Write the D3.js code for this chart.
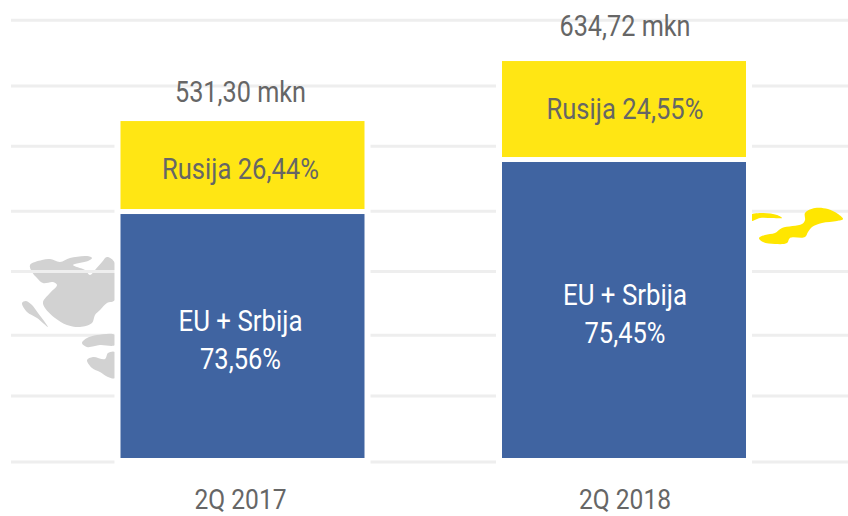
<!DOCTYPE html>
<html>
<head>
<meta charset="utf-8">
<script src="https://cdn.jsdelivr.net/npm/d3@7/dist/d3.min.js"></script>
<style>
  html, body { margin: 0; padding: 0; background: #fff; }
  svg { display: block; }
  text { font-family: Roboto, sans-serif; text-anchor: middle; }
</style>
</head>
<body>
<div id="chart"></div>
<script>
const categories = ["2Q 2017", "2Q 2018"]
const euValues = [393.5, 477.4]
const rusijaValues = [141.9, 154.8]
const totalLabels = ["531,30 mkn", "634,72 mkn"]
const rusijaLabels = ["Rusija 26,44%", "Rusija 24,55%"]
const euLabels = [["EU + Srbija", "73,56%"], ["EU + Srbija", "75,45%"]]
const gridValues = [-6.5, 100, 198, 301, 398, 503, 600, 706]

// decorative map fragments behind the chart
const grayBlobsBack = [
  [[30,265],[42,260],[50,259],[60,262],[70,258],[87,256],[92,258],[88,261],[73,265],[85,270],[90,275],[95,270],[102,262],[107,257],[115,263],[115,300],[107,303],[100,310],[95,315],[92,323],[80,327],[67,325],[55,318],[45,308],[43,302],[50,293],[57,285],[53,282],[43,283],[37,278],[32,272]],
  [[22,303],[26,301],[32,305],[38,313],[48,327],[37,318],[27,312]]
]
const grayBlobsFront = [
  [[82,343],[87,338],[97,335],[115,335],[115,345],[100,345],[87,347]],
  [[87,360],[93,357],[105,359],[108,353],[115,352],[115,378],[108,377],[100,372],[92,368]]
]
const yellowBlobs = [
  [[751,215],[763,213],[777,215],[782,218],[772,218],[760,218],[751,221]],
  [[759,238],[765,235],[775,233],[782,228],[802,224],[805,220],[805,213],[815,208],[828,209],[838,214],[843,219],[837,221],[822,223],[812,227],[808,232],[805,237],[790,238],[787,243],[775,244],[763,242]]
]

const width = 848
const height = 516
const barWidth = 244
const gap = 5
const halo = 6

const svg = d3.select("#chart").append("svg")
  .attr("width", width)
  .attr("height", height)

const x = d3.scalePoint().domain(categories).range([242.5, 624])
const labelX = d3.scalePoint().domain(categories).range([240.5, 625])
const y = d3.scaleLinear().domain([0, 700]).range([458, 24])

const blobPath = d3.line().curve(d3.curveCatmullRomClosed.alpha(0.5))

function drawBlobs(data, fill) {
  svg.append("g").selectAll("path")
    .data(data)
    .join("path")
    .attr("d", blobPath)
    .attr("fill", fill)
}

drawBlobs(grayBlobsBack, "#d2d2d2")

// Grid lines
svg.append("g").selectAll("line")
  .data(gridValues)
  .join("line")
  .attr("x1", 11)
  .attr("x2", width)
  .attr("y1", d => y(d))
  .attr("y2", d => y(d))
  .attr("stroke", "#eeeeee")
  .attr("stroke-width", 3)

drawBlobs(grayBlobsFront, "#d2d2d2")
drawBlobs(yellowBlobs, "#ffe600")

const barTop = i => y(euValues[i] + rusijaValues[i]) - gap

// White halo that cuts grid and blobs around each bar
svg.append("g").selectAll("rect")
  .data(categories)
  .join("rect")
  .attr("x", d => x(d) - barWidth / 2 - halo)
  .attr("width", barWidth + halo * 2)
  .attr("y", (d, i) => barTop(i) - halo)
  .attr("height", (d, i) => y(0) + 10 - barTop(i) + halo)
  .attr("fill", "#fff")

const bars = svg.append("g").selectAll("g")
  .data(categories)
  .join("g")

bars.append("rect")
  .attr("x", d => x(d) - barWidth / 2)
  .attr("width", barWidth)
  .attr("y", (d, i) => y(euValues[i]))
  .attr("height", (d, i) => y(0) - y(euValues[i]))
  .attr("fill", "#4064a1")

bars.append("rect")
  .attr("x", d => x(d) - barWidth / 2)
  .attr("width", barWidth)
  .attr("y", (d, i) => barTop(i))
  .attr("height", (d, i) => y(euValues[i]) - y(euValues[i] + rusijaValues[i]))
  .attr("fill", "#ffe614")

function label(sel, yPos, text, fill, len, size = 30) {
  sel.append("text")
    .attr("x", d => labelX(d))
    .attr("y", yPos)
    .attr("fill", fill)
    .attr("font-size", size)
    .attr("textLength", len)
    .attr("lengthAdjust", "spacingAndGlyphs")
    .text(text)
}

const euMid = i => (y(0) + y(euValues[i])) / 2

label(bars, (d, i) => barTop(i) - (i ? 25 : 19), (d, i) => totalLabels[i], "#666666", 131)
label(bars, (d, i) => barTop(i) + 58, (d, i) => rusijaLabels[i], "#666666", 157)
label(bars, (d, i) => euMid(i) - 5, (d, i) => euLabels[i][0], "#ffffff", 124)
label(bars, (d, i) => euMid(i) + 33, (d, i) => euLabels[i][1], "#ffffff", 81)
label(bars, 509, d => d, "#666666", 92, 28)
</script>
</body>
</html>
